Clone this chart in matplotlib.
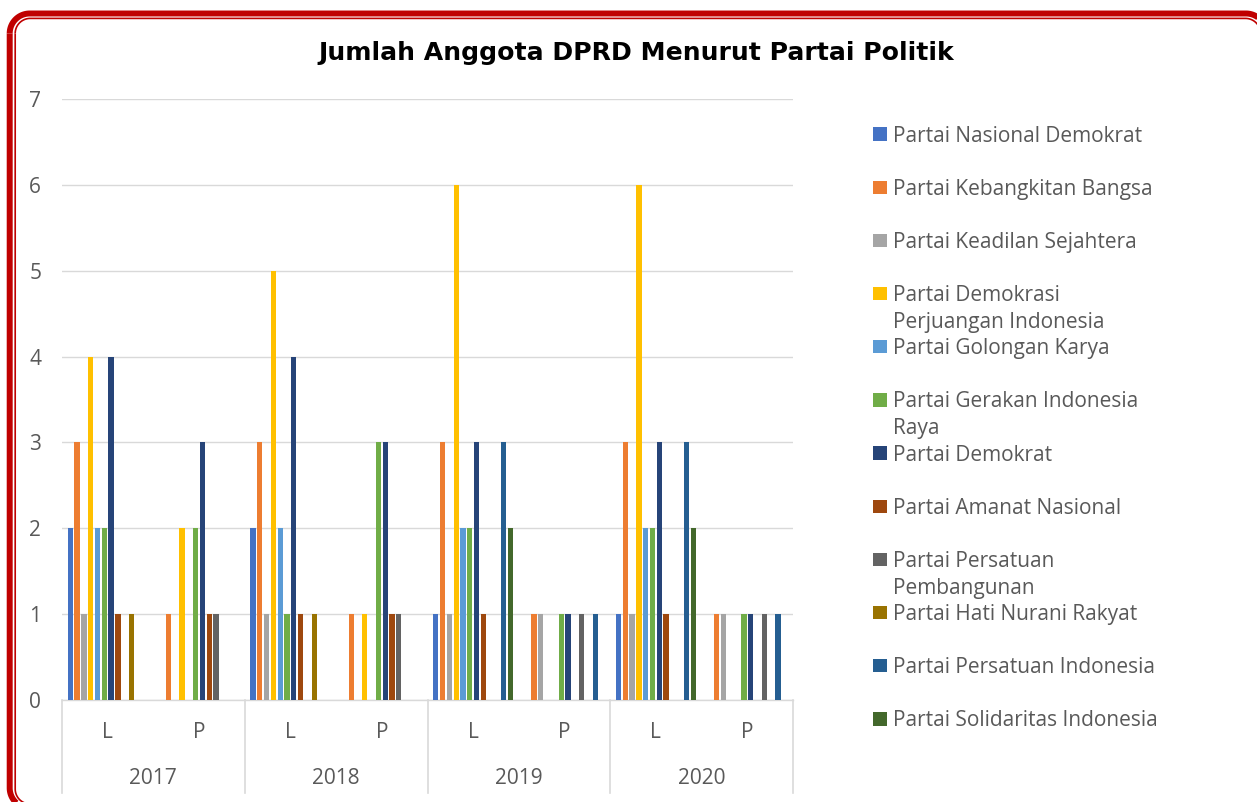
import matplotlib
matplotlib.use("Agg")
import matplotlib.pyplot as plt
import matplotlib.transforms as mtransforms
from matplotlib.patches import Rectangle
import numpy as np

# ---------------- data ----------------
years = ["2017", "2018", "2019", "2020"]
genders = ["L", "P"]
parties = [
    "Partai Nasional Demokrat",
    "Partai Kebangkitan Bangsa",
    "Partai Keadilan Sejahtera",
    "Partai Demokrasi\nPerjuangan Indonesia",
    "Partai Golongan Karya",
    "Partai Gerakan Indonesia\nRaya",
    "Partai Demokrat",
    "Partai Amanat Nasional",
    "Partai Persatuan\nPembangunan",
    "Partai Hati Nurani Rakyat",
    "Partai Persatuan Indonesia",
    "Partai Solidaritas Indonesia",
]
colors = ["#4472C4", "#ED7D31", "#A5A5A5", "#FFC000", "#5B9BD5", "#70AD47",
          "#264478", "#9E480E", "#636363", "#997300", "#255E91", "#43682B"]

# categories: 2017 L, 2017 P, 2018 L, 2018 P, 2019 L, 2019 P, 2020 L, 2020 P
nasdem   = [2, 0, 2, 0, 1, 0, 1, 0]
pkb      = [3, 1, 3, 1, 3, 1, 3, 1]
pks      = [1, 0, 1, 0, 1, 1, 1, 1]
pdip     = [4, 2, 5, 1, 6, 0, 6, 0]
golkar   = [2, 0, 2, 0, 2, 0, 2, 0]
gerindra = [2, 2, 1, 3, 2, 1, 2, 1]
demokrat = [4, 3, 4, 3, 3, 1, 3, 1]
pan      = [1, 1, 1, 1, 1, 0, 1, 0]
ppp      = [0, 1, 0, 1, 0, 1, 0, 1]
hanura   = [1, 0, 1, 0, 0, 0, 0, 0]
perindo  = [0, 0, 0, 0, 3, 1, 3, 1]
psi      = [0, 0, 0, 0, 2, 0, 2, 0]
series = [nasdem, pkb, pks, pdip, golkar, gerindra, demokrat, pan, ppp,
          hanura, perindo, psi]

title = "Jumlah Anggota DPRD Menurut Partai Politik"

# ---------------- figure ----------------
W, H = 1257, 802
plt.rcParams["font.family"] = ["Open Sans", "DejaVu Sans"]
TXT = "#595959"
FS = 15

fig = plt.figure(figsize=(W / 100, H / 100), dpi=100)
fig.patch.set_facecolor("white")

def fx(px):
    return px / W

def fy(py):
    return 1 - py / H

ax = fig.add_axes([fx(62), fy(700), fx(793) - fx(62), (700 - 99) / H])

ncat = len(years) * len(genders)
xc = np.arange(ncat)
nser = len(series)
group = 0.893
slot = group / nser
for i, (vals, c) in enumerate(zip(series, colors)):
    ax.bar(xc + (i - (nser - 1) / 2) * slot, vals, width=slot * 0.78,
           color=c, linewidth=0, zorder=3)

ax.set_xlim(-0.5, ncat - 0.5)
ax.set_ylim(0, 7)
ax.set_yticks(range(0, 8))
ax.set_yticklabels([str(v) for v in range(0, 8)], fontsize=FS, color=TXT)
ax.tick_params(axis="y", length=0, pad=15)
ax.set_xticks([])
ax.grid(axis="y", color="#D9D9D9", linewidth=1.0, zorder=0)
for s in ["left", "right", "top"]:
    ax.spines[s].set_visible(False)
ax.spines["bottom"].set_color("#D9D9D9")
ax.spines["bottom"].set_linewidth(1.0)

trans = mtransforms.blended_transform_factory(ax.transData, ax.transAxes)
ybot = (700 - 793) / (700 - 99)
for xb in np.arange(-0.5, ncat, 2):
    ax.plot([xb, xb], [0, ybot], transform=trans, color="#D9D9D9",
            linewidth=1.2, clip_on=False)

y_g = (700 - 733) / (700 - 99)
y_y = (700 - 779) / (700 - 99)
for k in range(ncat):
    ax.text(k, y_g, genders[k % 2], transform=trans, ha="center", va="center",
            fontsize=FS, color=TXT)
for j, yr in enumerate(years):
    ax.text(2 * j + 0.5, y_y, yr, transform=trans, ha="center", va="center",
            fontsize=FS, color=TXT)

# title
fig.text(fx(636), fy(60), title, ha="center", va="baseline",
         fontsize=18.1, fontweight="bold", color="black",
         family="DejaVu Sans")

# legend (manual, Excel-like layout)
y0 = 134.2
dy = 53.15
for i, (lab, c) in enumerate(zip(parties, colors)):
    yc = y0 + i * dy
    fig.add_artist(Rectangle((fx(873), fy(yc + 6.7)), 14 / W, 13.4 / H,
                             transform=fig.transFigure,
                             facecolor=c, edgecolor="none"))
    for li, line in enumerate(lab.split("\n")):
        fig.text(fx(893), fy(yc + 7.5 + li * 26.7), line, ha="left",
                 va="baseline", fontsize=FS, color=TXT)

# double red rounded border; only the visible pieces (left, top and corners)
bax = fig.add_axes([0, 0, 1, 1], zorder=10)
bax.set_xlim(0, W)
bax.set_ylim(H, 0)
bax.axis("off")
bax.patch.set_alpha(0)


def corner(cx, cy, r, t0, t1):
    t = np.linspace(t0, t1, 40)
    return cx + r * np.cos(t), cy + r * np.sin(t)


def border(left, top, right, bottom, r, lw):
    # top-left arc + top edge + top-right arc
    xa, ya = corner(left + r, top + r, r, np.pi, 1.5 * np.pi)
    xb, yb = corner(right - r, top + r, r, 1.5 * np.pi, 2 * np.pi)
    bax.plot(np.r_[xa, xb], np.r_[ya, yb], color="#C00000", lw=lw,
             solid_capstyle="butt")
    # left edge + bottom-left arc
    xc_, yc_ = corner(left + r, bottom - r, r, np.pi, 0.5 * np.pi)
    bax.plot(np.r_[left, xc_], np.r_[top + r, yc_], color="#C00000", lw=lw,
             solid_capstyle="butt")


border(9.7, 13.5, 1266, 808, 20, 4.3)
border(15.2, 18.4, 1260.5, 804, 15, 1.2)

fig.savefig("out.png", dpi=100, facecolor="white")
